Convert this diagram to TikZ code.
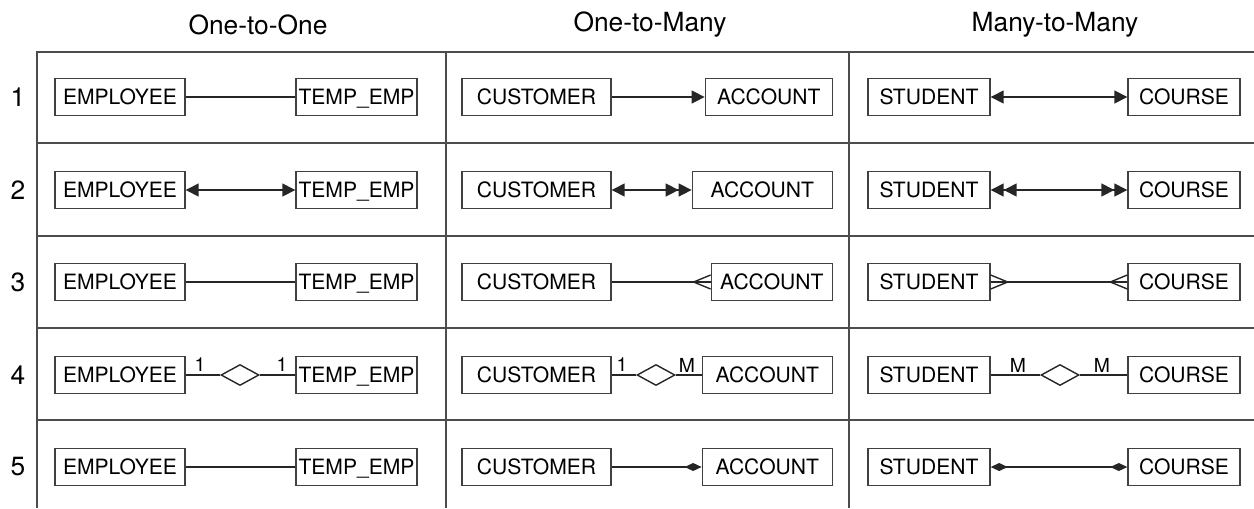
\documentclass[tikz,border=0pt]{standalone}
\usepackage{fontspec}
\setmainfont{TeX Gyre Heros}
\usepackage{tikz}
\usetikzlibrary{arrows.meta}
\usetikzlibrary{shapes.geometric}
\usetikzlibrary{positioning}

\tikzset{
  entity/.style={draw=black!75, line width=0.8pt, minimum height=0.74cm, inner sep=0pt, text height=8.6pt, text depth=0pt, font=\fontsize{12}{14}\selectfont},
  rel/.style={draw=black!85, line width=0.8pt, diamond, minimum width=0.76cm, minimum height=0.42cm, inner sep=0pt},
  conn/.style={black!85, line width=0.8pt},
  grid/.style={black!70, line width=1pt},
  lbl/.style={inner sep=0pt, font=\fontsize{11}{13}\selectfont},
  head/.style={font=\fontsize{15}{18}\selectfont},
  dia/.tip={Diamond[length=0.34cm, width=0.16cm]}
}

\begin{document}
\begin{tikzpicture}[x=0.02cm, y=-0.02cm, >={Triangle[length=0.26cm, width=0.26cm]}]
\useasboundingbox (0,0) rectangle (1254,508);
% Kopfzeile
\foreach \x/\xtext [count=\i] in {258/One-to-One, 650/One-to-Many, 1055/Many-to-Many}
  \node[head] (h\i) at (\x,25) {\xtext};
% Gitter
\draw[grid] (37,508) -- (37,52) -- (1254,52);
\foreach \y in {143,236,328,420} \draw[grid] (37,\y) -- (1254,\y);
\foreach \x in {446,849} \draw[grid] (\x,52) -- (\x,508);
% Entitaeten
\foreach \r/\y in {1/97,2/190,3/282,4/375,5/467} {
  \node[head] (n\r) at (18,\y) {\r};
  \node[entity, minimum width=2.6cm] (e\r) at (120,\y) {EMPLOYEE};
  \node[entity, minimum width=2.42cm] (t\r) at (356.5,\y) {TEMP\_EMP};
  \node[entity, minimum width=2.98cm] (c\r) at (536.5,\y) {CUSTOMER};
  \node[entity, minimum width=2.44cm] (s\r) at (929,\y) {STUDENT};
  \node[entity, minimum width=2.24cm] (k\r) at (1184,\y) {COURSE};
}
\foreach \r/\y/\w in {1/97/2.54cm, 2/190/2.8cm, 3/282/2.42cm, 4/375/2.6cm, 5/467/2.6cm}
  \node[entity, minimum width=\w, anchor=east] (a\r) at (833,\y) {ACCOUNT};
% Zeile 1
\draw[conn] (e1) -- (t1);
\draw[conn, ->] (c1) -- (a1);
\draw[conn, <->] (s1) -- (k1);
% Zeile 2
\draw[conn, <->] (e2) -- (t2);
\draw[conn, <->>] (c2) -- (a2);
\draw[conn, <<->>] (s2) -- (k2);
% Zeile 3
\draw[conn] (e3) -- (t3);
\draw[conn] (c3) -- (a3);
\draw[conn] (a3.west) ++(0,-7) -- ++(-17,7) -- ++(17,7);
\draw[conn] (s3) -- (k3);
\draw[conn] (s3.east) ++(0,-7) -- ++(17,7) -- ++(-17,7);
\draw[conn] (k3.west) ++(0,-7) -- ++(-17,7) -- ++(17,7);
% Zeile 4
\node[rel] (d1) at (240,375) {};
\node[rel] (d2) at (656,375) {};
\node[rel] (d3) at (1060,375) {};
\draw[conn] (e4) -- (d1) -- (t4);
\draw[conn] (c4) -- (d2) -- (a4);
\draw[conn] (s4) -- (d3) -- (k4);
\foreach \x/\xtext [count=\i] in {200/1,282/1,622/1,687/M,1018/M,1102/M}
  \node[lbl] (m\i) at (\x,365) {\xtext};
% Zeile 5
\draw[conn] (e5) -- (t5);
\draw[conn, -dia] (c5) -- (a5);
\draw[conn, dia-dia] (s5) -- (k5);
\end{tikzpicture}
\end{document}
